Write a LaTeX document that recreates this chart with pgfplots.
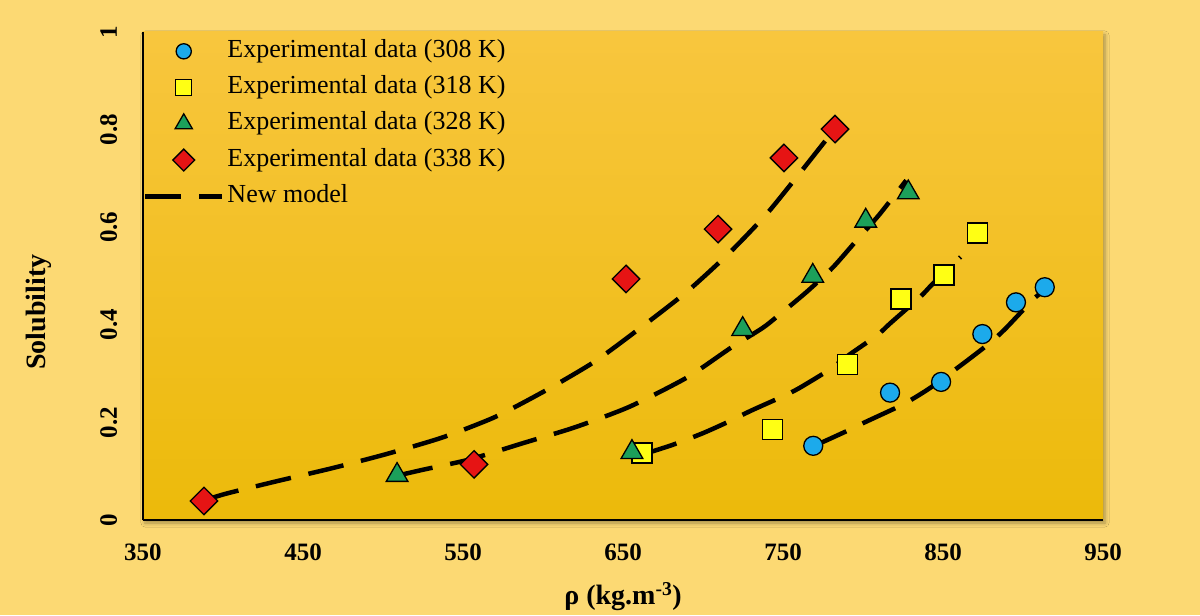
\documentclass[border=0pt]{standalone}
\usepackage{fontspec}
\setmainfont{Liberation Serif}
\usepackage{pgfplots}
\pgfplotsset{compat=1.18}
\usetikzlibrary{backgrounds,calc,shadows.blur}

\definecolor{outerbg}{RGB}{252,217,115}
\definecolor{plottop}{RGB}{248,198,62}
\definecolor{plotmid}{RGB}{255,194,18}
\definecolor{plotbot}{RGB}{236,186,10}
\definecolor{cblue}{RGB}{28,170,235}
\definecolor{cyellow}{RGB}{255,255,20}
\definecolor{cgreen}{RGB}{28,160,90}
\definecolor{cred}{RGB}{230,20,20}

\pgfplotsset{
  model/.style={black, line width=4.5pt, dash pattern=on 36pt off 18pt, no markers, smooth, tension=0.4},
  exp/.style 2 args={only marks, mark options={draw=black, line width=1.3pt, fill=#1, rotate=#2}},
}

\begin{document}
\begin{tikzpicture}
\begin{axis}[
  width=960pt, height=488pt, scale only axis,
  xmin=350, xmax=950, ymin=0, ymax=1,
  enlargelimits=false,
  xtick={350,450,...,950},
  ytick={0,0.2,0.4,0.6,0.8,1},
  axis x line*=bottom, axis y line*=left,
  axis line style={-, line width=1.6pt, black},
  every outer x axis line/.append style={-},
  every outer y axis line/.append style={-},
  major tick length=0pt,
  /pgf/number format/assume math mode=true,
  tick label style={font=\bfseries\fontsize{25}{25}\selectfont},
  xticklabel style={yshift=-40pt, anchor=base},
  yticklabel style={xshift=-26pt, rotate=90, anchor=base},
  xlabel={\bfseries ρ (kg.m\textsuperscript{-3})},
  ylabel={\bfseries Solubility},
  every axis x label/.style={at={(axis description cs:0.5,-0.174)}, anchor=base,
    font=\fontsize{28}{28}\selectfont},
  every axis y label/.style={at={(axis description cs:-0.102,0.426)}, rotate=90, anchor=base,
    font=\fontsize{28}{28}\selectfont},
  axis background/.style={shade, top color=plottop, middle color=plotmid, bottom color=plotbot,
    blur shadow={shadow xshift=2pt, shadow yshift=-3pt, shadow blur radius=4pt, shadow opacity=35}},
  legend image code/.code={\draw[mark repeat=2, mark phase=2, #1, every mark/.append style={scale=0.8}]
    plot coordinates {(0pt,0pt) (38.5pt,0pt) (77pt,0pt)};},
  legend cell align=left,
  legend style={at={(axis description cs:0,0.985)}, anchor=north west, draw=none, fill=none,
    inner sep=0pt, outer sep=0pt, row sep=12.25pt, column sep=3pt,
    nodes={inner sep=0pt, text height=18pt, text depth=6pt, font=\fontsize{26}{26}\selectfont}},
]
% model curves
\addplot[model, forget plot] coordinates {
  (388,0.040) (402,0.054) (433,0.079) (468,0.106) (502,0.135) (537,0.169)
  (570,0.211) (602,0.266) (632,0.324) (659,0.389) (690,0.468) (717,0.549)
  (740,0.628) (762,0.717) (782,0.800)
};
\addplot[model, forget plot] coordinates {
  (509,0.091) (525,0.103) (554,0.124) (588,0.158) (620,0.190) (654,0.232)
  (690,0.292) (717,0.352) (737,0.393) (746,0.416) (765,0.468) (781,0.517)
  (796,0.573) (810,0.625) (827,0.696)
};
\addplot[model, forget plot] coordinates {
  (662,0.134) (681,0.154) (700,0.178) (715,0.200) (730,0.224) (749,0.252)
  (760,0.270) (779,0.308) (792,0.340) (809,0.379) (817,0.403) (836,0.458)
  (843,0.482) (861,0.539)
};
\addplot[model, forget plot] coordinates {
  (769,0.152) (775,0.160) (791,0.184) (801,0.200) (822,0.232) (832,0.250)
  (843,0.273) (862,0.319) (879,0.362) (889,0.392) (906,0.451) (910,0.462)
};
% experimental data
\addplot[exp={cblue}{0}, mark=*, mark size=9.5pt] coordinates {
  (768.9,0.152) (816.9,0.261) (848.8,0.283) (874.6,0.381) (895.6,0.446) (913.6,0.477)
};
\addplot[exp={cyellow}{0}, mark=square*, mark size=10pt] coordinates {
  (661.9,0.137) (743.6,0.186) (790.4,0.319) (823.8,0.453) (850.6,0.502) (871.7,0.588)
};
\addplot[exp={cgreen}{0}, mark=triangle*, mark size=12.5pt] coordinates {
  (508.8,0.092) (655.6,0.139) (724.8,0.391) (768.6,0.500) (801.7,0.613) (828.3,0.671)
};
\addplot[exp={cred}{45}, mark=square*, mark size=9.7pt] coordinates {
  (388.1,0.039) (556.9,0.114) (651.9,0.494) (709.4,0.596) (750.6,0.742) (782.5,0.801)
};
\addlegendimage{model}
\legend{Experimental data (308 K), Experimental data (318 K), Experimental data (328 K),
  Experimental data (338 K), New model}
\coordinate (sw) at (rel axis cs:0,0);
\coordinate (ne) at (rel axis cs:1,1);
\end{axis}
\pgfresetboundingbox
\path[use as bounding box] ($(sw)+(-143pt,-95pt)$) rectangle ($(ne)+(97pt,32pt)$);
\begin{scope}[on background layer]
\fill[outerbg] ($(sw)+(-143pt,-95pt)$) rectangle ($(ne)+(97pt,32pt)$);
\end{scope}
\end{tikzpicture}
\end{document}
